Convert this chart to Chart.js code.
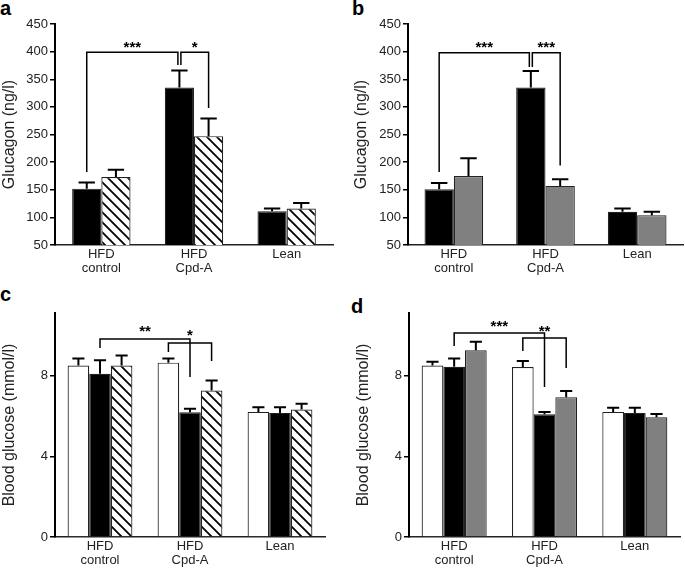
<!DOCTYPE html>
<html>
<head>
<meta charset="utf-8">
<script src="https://cdn.jsdelivr.net/npm/chart.js@4.4.1/dist/chart.umd.min.js"></script>
<style>
  body { margin: 0; background: #fff; }
  canvas { position: absolute; }
  .tag { position: absolute; font: bold 20px "Liberation Sans", Arial, sans-serif; line-height: 20px; color: #000; }
</style>
</head>
<body>
<div class="tag" style="left:0px;top:-2px">a</div>
<div class="tag" style="left:352px;top:-2px">b</div>
<div class="tag" style="left:0px;top:284px">c</div>
<div class="tag" style="left:351px;top:296px">d</div>

<canvas id="chartA" width="340" height="285" style="left:0;top:0"></canvas>
<canvas id="chartB" width="345" height="285" style="left:340px;top:0"></canvas>
<canvas id="chartC" width="340" height="284" style="left:0;top:285px"></canvas>
<canvas id="chartD" width="345" height="284" style="left:340px;top:285px"></canvas>

<script>
// ---------------------------------------------------
// Data
// ---------------------------------------------------
var categories = [['HFD', 'control'], ['HFD', 'Cpd-A'], 'Lean'];
var glucagonTicks = [50, 100, 150, 200, 250, 300, 350, 400, 450];
var glucoseTicks = [0, 4, 8];

// a: glucagon, black vs hatched
var aBlack = [152, 335, 111];
var aBlackErr = [11, 31, 5];
var aHatch = [173, 247, 116];
var aHatchErr = [13, 32, 10];

// b: glucagon, black vs grey
var bBlack = [151, 335, 110];
var bBlackErr = [11, 30, 6];
var bGrey = [175, 157, 104];
var bGreyErr = [32, 12, 6];

// c: blood glucose, white / black / hatched
var cWhite = [8.5, 8.64, 6.2];
var cWhiteErr = [0.35, 0.21, 0.23];
var cBlack = [8.09, 6.18, 6.15];
var cBlackErr = [0.67, 0.17, 0.28];
var cHatch = [8.5, 7.26, 6.32];
var cHatchErr = [0.5, 0.5, 0.28];

// d: blood glucose, white / black / grey
var dWhite = [8.5, 8.42, 6.2];
var dWhiteErr = [0.19, 0.3, 0.2];
var dBlack = [8.44, 6.08, 6.15];
var dBlackErr = [0.4, 0.12, 0.25];
var dGrey = [9.25, 6.93, 5.93];
var dGreyErr = [0.42, 0.3, 0.17];

// significance brackets: from/to = [category, dataset], heights in axis units
var aBrackets = [
  { from: [0, 0], to: [1, 0], top: 399, fromEnd: 182, toEnd: 376, label: '***', labelAt: 415 },
  { from: [1, 0], to: [1, 1], top: 399, fromEnd: 376, toEnd: 298, label: '*', labelAt: 415 }
];
var bBrackets = [
  { from: [0, 0], to: [1, 0], top: 398, fromEnd: 182, toEnd: 372, label: '***', labelAt: 415 },
  { from: [1, 0], to: [1, 1], top: 398, fromEnd: 372, toEnd: 194, label: '***', labelAt: 415 }
];
var cBrackets = [
  { from: [0, 1], to: [1, 1], top: 9.81, fromEnd: 9.37, toEnd: 7.93, label: '**', labelAt: 10.4 },
  { from: [1, 0], to: [1, 2], top: 9.61, fromEnd: 9.17, toEnd: 8.72, label: '*', labelAt: 10.16 }
];
var dBrackets = [
  { from: [0, 1], to: [1, 1], top: 10.11, fromEnd: 9.46, toEnd: 7.43, label: '***', labelAt: 10.65 },
  { from: [1, 0], to: [1, 2], top: 9.86, fromEnd: 9.22, toEnd: 8.37, label: '**', labelAt: 10.4 }
];

// ---------------------------------------------------
// Styling helpers
// ---------------------------------------------------
var FONT = '"Liberation Sans", Arial, Helvetica, sans-serif';
Chart.defaults.font.family = FONT;
Chart.defaults.color = '#222';

var BLACK = '#000';
var WHITE = '#fff';
var GREY = '#808080';

function hatchPattern(ctx) {
  var tile = document.createElement('canvas');
  tile.width = 10;
  tile.height = 10;
  var g = tile.getContext('2d');
  g.fillStyle = '#fff';
  g.fillRect(0, 0, 10, 10);
  g.strokeStyle = '#000';
  g.lineWidth = 1.8;
  g.beginPath();
  g.moveTo(-2, -2); g.lineTo(12, 12);
  g.moveTo(-2, 8); g.lineTo(2, 12);
  g.moveTo(8, -2); g.lineTo(12, 2);
  g.stroke();
  return ctx.createPattern(tile, 'repeat');
}

// upper-only error bars, read from dataset.errors
var errorBars = {
  id: 'errorBars',
  afterDatasetsDraw: function(chart) {
    var ctx = chart.ctx;
    var yScale = chart.scales.y;
    ctx.save();
    ctx.strokeStyle = '#000';
    ctx.lineWidth = 2;
    chart.data.datasets.forEach(function(ds, i) {
      chart.getDatasetMeta(i).data.forEach(function(bar, j) {
        var top = yScale.getPixelForValue(ds.data[j] + ds.errors[j]);
        var half = bar.width * 0.28;
        ctx.beginPath();
        ctx.moveTo(bar.x, bar.y);
        ctx.lineTo(bar.x, top);
        ctx.moveTo(bar.x - half, top);
        ctx.lineTo(bar.x + half, top);
        ctx.stroke();
      });
    });
    ctx.restore();
  }
};

function sameRef(p, q) {
  return p && q && p[0] === q[0] && p[1] === q[1];
}

function bracketPlugin(items) {
  return {
    id: 'brackets',
    afterDatasetsDraw: function(chart) {
      var ctx = chart.ctx;
      var y = chart.scales.y;
      function barX(ref) {
        return chart.getDatasetMeta(ref[1]).data[ref[0]].x;
      }
      ctx.save();
      ctx.strokeStyle = '#000';
      ctx.fillStyle = '#000';
      ctx.lineWidth = 1.5;
      ctx.font = 'bold 15px ' + FONT;
      ctx.textAlign = 'center';
      ctx.textBaseline = 'alphabetic';
      items.forEach(function(b, k) {
        var x1 = barX(b.from);
        var x2 = barX(b.to);
        // keep two brackets apart where they meet on the same bar
        if (sameRef(b.to, items[k + 1] && items[k + 1].from)) x2 -= 1.5;
        if (sameRef(items[k - 1] && items[k - 1].to, b.from)) x1 += 1.5;
        var yt = y.getPixelForValue(b.top);
        ctx.beginPath();
        ctx.moveTo(x1, y.getPixelForValue(b.fromEnd));
        ctx.lineTo(x1, yt);
        ctx.lineTo(x2, yt);
        ctx.lineTo(x2, y.getPixelForValue(b.toEnd));
        ctx.stroke();
        ctx.fillText(b.label, (x1 + x2) / 2, y.getPixelForValue(b.labelAt) + 8.5);
      });
      ctx.restore();
    }
  };
}

function bar(data, errors, fill) {
  return {
    data: data,
    errors: errors,
    backgroundColor: fill,
    borderColor: '#222',
    borderWidth: 1.2,
    borderSkipped: 'start'
  };
}

/**
 * Build one panel
 */
function makePanel(id, cfg) {
  var canvas = document.getElementById(id);
  var ctx = canvas.getContext('2d');
  var datasets = cfg.series.map(function(s) {
    var fill = s.fill === 'hatch' ? hatchPattern(ctx) : s.fill;
    var d = bar(s.data, s.errors, fill);
    d.categoryPercentage = cfg.groupWidth;
    d.barPercentage = 1.0;
    return d;
  });

  return new Chart(ctx, {
    type: 'bar',
    data: { labels: categories, datasets: datasets },
    plugins: [errorBars, bracketPlugin(cfg.brackets)],
    options: {
      responsive: false,
      animation: false,
      layout: { padding: { top: cfg.padTop, right: cfg.padRight, left: 0, bottom: 0 } },
      plugins: { legend: { display: false }, tooltip: { enabled: false } },
      scales: {
        x: {
          grid: { display: false, drawTicks: false },
          border: { display: true, color: '#222', width: 1.5 },
          ticks: { padding: 2, color: '#222', font: { size: 13, lineHeight: 1.1 }, maxRotation: 0 },
          afterFit: function(s) { s.height = cfg.xHeight; }
        },
        y: {
          min: cfg.min,
          max: cfg.max,
          grid: { display: true, drawOnChartArea: false, drawTicks: true, tickLength: 5, color: '#000', lineWidth: 1.5 },
          border: { display: true, color: '#000', width: 2 },
          ticks: { padding: 2, color: '#222', font: { size: 13 } },
          afterBuildTicks: function(s) {
            s.ticks = cfg.ticks.map(function(v) { return { value: v }; });
          },
          title: {
            display: true,
            text: cfg.title,
            color: '#222',
            font: { size: 16 },
            padding: { top: cfg.titlePad, bottom: 0 }
          },
          afterFit: function(s) { s.width = cfg.yWidth; }
        }
      }
    }
  });
}

makePanel('chartA', {
  series: [
    { data: aBlack, errors: aBlackErr, fill: BLACK },
    { data: aHatch, errors: aHatchErr, fill: 'hatch' }
  ],
  brackets: aBrackets,
  min: 50, max: 450, ticks: glucagonTicks,
  title: 'Glucagon (ng/l)',
  groupWidth: 0.63,
  padTop: 24, padRight: 7, xHeight: 40, yWidth: 55, titlePad: 0
});

makePanel('chartB', {
  series: [
    { data: bBlack, errors: bBlackErr, fill: BLACK },
    { data: bGrey, errors: bGreyErr, fill: GREY }
  ],
  brackets: bBrackets,
  min: 50, max: 450, ticks: glucagonTicks,
  title: 'Glucagon (ng/l)',
  groupWidth: 0.64,
  padTop: 24, padRight: 2, xHeight: 40, yWidth: 68, titlePad: 12
});

makePanel('chartC', {
  series: [
    { data: cWhite, errors: cWhiteErr, fill: WHITE },
    { data: cBlack, errors: cBlackErr, fill: BLACK },
    { data: cHatch, errors: cHatchErr, fill: 'hatch' }
  ],
  brackets: cBrackets,
  min: 0, max: 11.1, ticks: glucoseTicks,
  title: 'Blood glucose (mmol/l)',
  groupWidth: 0.72,
  padTop: 28, padRight: 15, xHeight: 32, yWidth: 55, titlePad: 0
});

makePanel('chartD', {
  series: [
    { data: dWhite, errors: dWhiteErr, fill: WHITE },
    { data: dBlack, errors: dBlackErr, fill: BLACK },
    { data: dGrey, errors: dGreyErr, fill: GREY }
  ],
  brackets: dBrackets,
  min: 0, max: 11.1, ticks: glucoseTicks,
  title: 'Blood glucose (mmol/l)',
  groupWidth: 0.72,
  padTop: 28, padRight: 5, xHeight: 32, yWidth: 69, titlePad: 14
});
</script>
</body>
</html>
